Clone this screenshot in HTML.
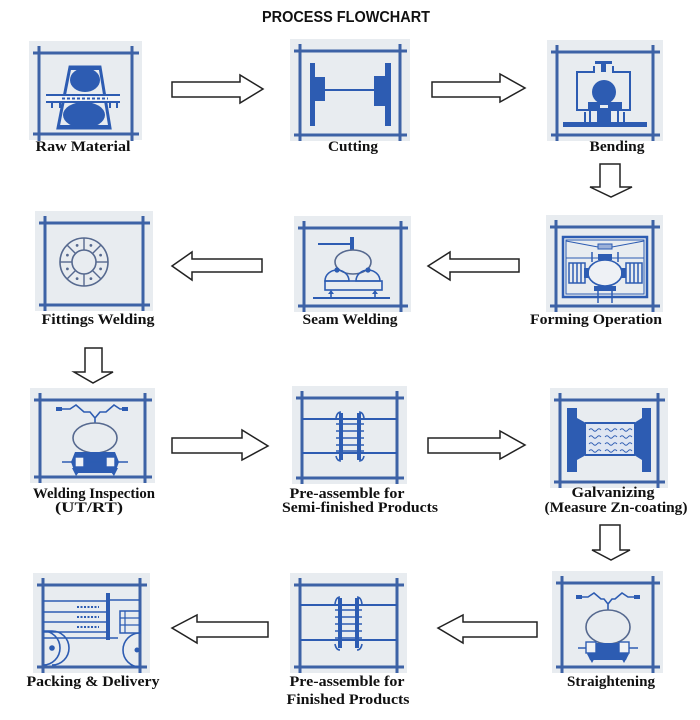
<!DOCTYPE html>
<html><head><meta charset="utf-8"><style>
html,body{margin:0;padding:0;background:#fff;}
svg{display:block;}
.lb{font-family:"Liberation Serif",serif;font-weight:bold;font-size:15px;fill:#111;}
.fr line{stroke:#3d62a6;stroke-width:3;}
.bg{fill:#e8ecf0;}
.ar{fill:#fff;stroke:#222;stroke-width:1.5;stroke-linejoin:miter;}
.b{fill:#2d5cb2;}
.s{stroke:#2d5cb2;fill:none;}
.g{stroke:#56698f;fill:none;stroke-width:1.6;}
</style></head><body>
<svg width="700" height="720" viewBox="0 0 700 720" xmlns="http://www.w3.org/2000/svg">
<rect width="700" height="720" fill="#fff"/>
<text x="346" y="22" text-anchor="middle" font-family="Liberation Sans, sans-serif" font-weight="bold" font-size="16" textLength="168" lengthAdjust="spacingAndGlyphs" fill="#111">PROCESS FLOWCHART</text>

<!-- backgrounds -->
<rect class="bg" x="29" y="41" width="113" height="99"/>
<rect class="bg" x="290" y="39" width="120" height="102"/>
<rect class="bg" x="547" y="40" width="116" height="101"/>
<rect class="bg" x="35" y="211" width="118" height="100"/>
<rect class="bg" x="294" y="216" width="117" height="96"/>
<rect class="bg" x="546" y="215" width="117" height="97"/>
<rect class="bg" x="30" y="388" width="125" height="95"/>
<rect class="bg" x="292" y="386" width="115" height="98"/>
<rect class="bg" x="550" y="388" width="118" height="100"/>
<rect class="bg" x="33" y="573" width="117" height="100"/>
<rect class="bg" x="290" y="573" width="117" height="100"/>
<rect class="bg" x="552" y="571" width="111" height="102"/>

<!-- frames -->
<g class="fr">
<line x1="39" y1="46" x2="39" y2="141"/><line x1="132" y1="46" x2="132" y2="141"/><line x1="33" y1="53" x2="139" y2="53"/><line x1="33" y1="134" x2="139" y2="134"/>
<line x1="300" y1="44" x2="300" y2="141"/><line x1="400" y1="44" x2="400" y2="141"/><line x1="294" y1="51" x2="407" y2="51"/><line x1="294" y1="135" x2="407" y2="135"/>
<line x1="557" y1="45" x2="557" y2="141"/><line x1="653" y1="45" x2="653" y2="141"/><line x1="551" y1="52" x2="660" y2="52"/><line x1="551" y1="135" x2="660" y2="135"/>
<line x1="45" y1="216" x2="45" y2="311"/><line x1="143" y1="216" x2="143" y2="311"/><line x1="39" y1="223" x2="150" y2="223"/><line x1="39" y1="305" x2="150" y2="305"/>
<line x1="304" y1="221" x2="304" y2="312"/><line x1="401" y1="221" x2="401" y2="312"/><line x1="298" y1="228" x2="408" y2="228"/><line x1="298" y1="306" x2="408" y2="306"/>
<line x1="556" y1="220" x2="556" y2="312"/><line x1="653" y1="220" x2="653" y2="312"/><line x1="550" y1="227" x2="660" y2="227"/><line x1="550" y1="306" x2="660" y2="306"/>
<line x1="40" y1="393" x2="40" y2="483"/><line x1="145" y1="393" x2="145" y2="483"/><line x1="34" y1="400" x2="152" y2="400"/><line x1="34" y1="477" x2="152" y2="477"/>
<line x1="302" y1="391" x2="302" y2="484"/><line x1="397" y1="391" x2="397" y2="484"/><line x1="296" y1="398" x2="404" y2="398"/><line x1="296" y1="478" x2="404" y2="478"/>
<line x1="560" y1="393" x2="560" y2="488"/><line x1="658" y1="393" x2="658" y2="488"/><line x1="554" y1="400" x2="665" y2="400"/><line x1="554" y1="482" x2="665" y2="482"/>
<line x1="43" y1="578" x2="43" y2="673"/><line x1="140" y1="578" x2="140" y2="673"/><line x1="37" y1="585" x2="147" y2="585"/><line x1="37" y1="667" x2="147" y2="667"/>
<line x1="300" y1="578" x2="300" y2="673"/><line x1="397" y1="578" x2="397" y2="673"/><line x1="294" y1="585" x2="404" y2="585"/><line x1="294" y1="667" x2="404" y2="667"/>
<line x1="562" y1="576" x2="562" y2="673"/><line x1="653" y1="576" x2="653" y2="673"/><line x1="556" y1="583" x2="660" y2="583"/><line x1="556" y1="667" x2="660" y2="667"/>
</g>

<!-- 1 Raw material -->
<polygon points="70,67 100,67 110,128 58,128" fill="#e8ecf0" stroke="#2d5cb2" stroke-width="3"/>
<ellipse class="b" cx="85" cy="80" rx="15" ry="12"/>
<ellipse class="b" cx="84" cy="115" rx="21" ry="13"/>
<line x1="69" y1="68" x2="101" y2="68" stroke="#2d5cb2" stroke-width="4"/>
<line x1="57" y1="127" x2="111" y2="127" stroke="#2d5cb2" stroke-width="4"/>
<rect x="46" y="94" width="74" height="9" fill="#f2f4f7"/>
<line x1="46" y1="95" x2="120" y2="95" stroke="#2d5cb2" stroke-width="2"/>
<line x1="46" y1="102" x2="120" y2="102" stroke="#2d5cb2" stroke-width="2"/>
<line x1="62" y1="98.5" x2="108" y2="98.5" stroke="#2d5cb2" stroke-width="2" stroke-dasharray="3 2"/>
<g stroke="#2d5cb2" stroke-width="2"><line x1="52" y1="102" x2="52" y2="108"/><line x1="60" y1="102" x2="60" y2="108"/><line x1="110" y1="102" x2="110" y2="108"/><line x1="117" y1="102" x2="117" y2="108"/></g>

<!-- 2 Cutting -->
<rect class="b" x="310" y="63" width="5" height="63"/>
<rect class="b" x="315" y="77" width="10" height="24"/>
<path class="s" stroke-width="1.2" d="M320 84 l4 3 -4 3 4 3 -4 3" stroke="#fff"/>
<line x1="325" y1="90" x2="375" y2="90" stroke="#2d5cb2" stroke-width="2"/>
<rect class="b" x="385" y="63" width="6" height="63"/>
<rect class="b" x="374" y="76" width="11" height="30"/>
<path class="s" stroke-width="1.2" d="M379 84 l-4 3 4 3 -4 3 4 3" stroke="#fff"/>

<!-- 3 Bending -->
<rect class="b" x="595" y="61" width="17" height="3"/>
<rect class="b" x="601" y="63" width="5" height="9"/>
<path class="s" stroke-width="2" d="M590 122 V110 H577 V72 H594 V66 M613 66 V72 H630 V110 H618 V122"/>
<circle class="b" cx="604" cy="92" r="12"/>
<rect class="b" x="588" y="102" width="34" height="9"/>
<rect x="600" y="105" width="8" height="3" fill="#e8ecf0"/>
<rect class="b" x="597" y="111" width="14" height="13"/>
<line x1="585" y1="112" x2="585" y2="124" stroke="#2d5cb2" stroke-width="2"/>
<line x1="624" y1="112" x2="624" y2="124" stroke="#2d5cb2" stroke-width="2"/>
<rect class="b" x="563" y="122" width="84" height="5"/>

<!-- 4 Fittings welding -->
<circle class="g" cx="84" cy="262" r="24"/>
<circle class="g" cx="84" cy="262" r="12"/>
<g stroke="#56698f" stroke-width="1.4">
<line x1="84" y1="274" x2="84" y2="286"/><line x1="84" y1="250" x2="84" y2="238"/><line x1="96" y1="262" x2="108" y2="262"/><line x1="72" y1="262" x2="60" y2="262"/>
<line x1="92.5" y1="270.5" x2="101" y2="279"/><line x1="75.5" y1="270.5" x2="67" y2="279"/><line x1="75.5" y1="253.5" x2="67" y2="245"/><line x1="92.5" y1="253.5" x2="101" y2="245"/>
</g>
<g fill="#56698f"><circle cx="100.6" cy="268.9" r="1.4"/><circle cx="90.9" cy="278.6" r="1.4"/><circle cx="77.1" cy="278.6" r="1.4"/><circle cx="67.4" cy="268.9" r="1.4"/><circle cx="67.4" cy="255.1" r="1.4"/><circle cx="77.1" cy="245.4" r="1.4"/><circle cx="90.9" cy="245.4" r="1.4"/><circle cx="100.6" cy="255.1" r="1.4"/></g>

<!-- 5 Seam welding -->
<line x1="318" y1="244" x2="352" y2="244" stroke="#2d5cb2" stroke-width="2"/>
<rect class="b" x="350" y="237" width="4" height="13"/>
<ellipse class="g" cx="353" cy="262" rx="18" ry="12" fill="#eef1f5"/>
<path class="s" stroke-width="1.6" d="M325 281 A12 11 0 0 1 349 281 Z M356 281 A12 11 0 0 1 380 281 Z"/>
<circle class="b" cx="337" cy="270" r="2.6"/><circle class="b" cx="368" cy="270" r="2.6"/>
<rect x="325" y="281" width="57" height="9" class="s" stroke-width="1.6"/>
<g stroke="#2d5cb2" stroke-width="1.6"><line x1="331" y1="291" x2="331" y2="298"/><line x1="375" y1="291" x2="375" y2="298"/></g>
<path class="b" d="M328 294 L331 290 L334 294 Z M372 294 L375 290 L378 294 Z"/>
<line x1="313" y1="298" x2="390" y2="298" stroke="#2d5cb2" stroke-width="2"/>

<!-- 6 Forming -->
<rect x="563" y="237" width="84" height="60" class="s" stroke-width="2.5"/>
<rect x="566" y="240" width="78" height="54" class="s" stroke-width="1"/>
<path class="s" stroke-width="1" d="M566 241 L598 247 M612 247 L644 241 M566 258 H644"/>
<rect x="598" y="244" width="14" height="5" fill="#9bb0d8" stroke="#2d5cb2" stroke-width="1"/>
<path class="s" stroke-width="1.5" d="M592 262 V252 M618 262 V252"/>
<rect class="b" x="598" y="254" width="14" height="6"/>
<ellipse cx="605" cy="273" rx="17" ry="13" fill="#eef1f5" stroke="#2d5cb2" stroke-width="1.6"/>
<rect x="569" y="263" width="16" height="20" class="s" stroke-width="1.5"/>
<path class="s" stroke-width="1.5" d="M573 263 V283 M577 263 V283 M581 263 V283 M630 263 V283 M634 263 V283 M638 263 V283"/>
<rect x="626" y="263" width="16" height="20" class="s" stroke-width="1.5"/>
<rect class="b" x="584" y="268" width="5" height="10"/><rect class="b" x="621" y="268" width="5" height="10"/>
<rect class="b" x="594" y="286" width="22" height="5"/>
<path class="s" stroke-width="1.5" d="M598 291 V303 M612 291 V303 M598 297 H612"/>

<!-- 7 Welding inspection -->
<path class="s" stroke-width="1.6" d="M57 409 H70 L76 405 L84 412 H90 L95 418 V423 M95 418 L100 412 H106 L114 405 L120 409 H127"/>
<path class="b" d="M56 407 h6 v4 h-6 Z M122 407 h6 v4 h-6 Z"/>
<ellipse class="g" cx="95" cy="438" rx="22" ry="15" fill="#eef1f5"/>
<polygon class="b" points="75,452 115,452 119,462 115,473 75,473 71,462"/>
<line x1="62" y1="462" x2="128" y2="462" stroke="#2d5cb2" stroke-width="1.6"/>
<rect x="75" y="457" width="9" height="10" fill="#eef1f5" stroke="#2d5cb2" stroke-width="1.4"/>
<rect x="106" y="457" width="9" height="10" fill="#eef1f5" stroke="#2d5cb2" stroke-width="1.4"/>
<path class="b" d="M72 468 L82 468 L76 476 Z M108 468 L118 468 L114 476 Z"/>

<!-- 8 Pre-assemble semi -->
<line x1="302" y1="419" x2="397" y2="419" stroke="#2d5cb2" stroke-width="2"/>
<line x1="302" y1="453" x2="397" y2="453" stroke="#2d5cb2" stroke-width="2"/>
<rect class="b" x="339" y="413" width="4" height="47"/><rect class="b" x="357" y="413" width="4" height="47"/>
<path class="s" stroke-width="1.6" d="M336 418 Q337 412 341 412 M364 418 Q363 412 359 412 M336 456 Q337 461 341 461 M364 456 Q363 461 359 461"/>
<path class="s" stroke-width="1.5" d="M336 424 H364 M336 431 H364 M336 438 H364 M336 445 H364 M336 451 H364"/>

<!-- 9 Galvanizing -->
<rect x="585" y="423" width="50" height="32" fill="#dfe6f2"/>
<rect class="b" x="567" y="408" width="10" height="64"/>
<polygon class="b" points="577,418 586,423 586,455 577,460"/>
<rect class="b" x="642" y="408" width="9" height="64"/>
<polygon class="b" points="642,418 634,423 634,455 642,460"/>
<line x1="585" y1="423" x2="635" y2="423" stroke="#2d5cb2" stroke-width="2"/>
<line x1="585" y1="455" x2="635" y2="455" stroke="#2d5cb2" stroke-width="2"/>
<path class="s" stroke-width="1" d="M589 430 q2 -2.5 4 0 t4 0 t4 0 M605 430 q2 -2.5 4 0 t4 0 t4 0 M620 430 q2 -2.5 4 0 t4 0 t4 0 M589 437 q2 -2.5 4 0 t4 0 t4 0 M605 437 q2 -2.5 4 0 t4 0 t4 0 M620 437 q2 -2.5 4 0 t4 0 t4 0 M589 444 q2 -2.5 4 0 t4 0 t4 0 M605 444 q2 -2.5 4 0 t4 0 t4 0 M620 444 q2 -2.5 4 0 t4 0 t4 0 M589 451 q2 -2.5 4 0 t4 0 t4 0 M605 451 q2 -2.5 4 0 t4 0 t4 0 M620 451 q2 -2.5 4 0 t4 0 t4 0"/>

<!-- 10 Packing -->
<path class="s" stroke-width="1.5" d="M43 601 H108 M43 612 H108 M43 622 H108 M43 632 H108 M110 600 H140 M43 638 H118"/>
<path stroke="#2d5cb2" stroke-width="2" stroke-dasharray="2 1.5" d="M77 607 H99 M77 617 H99 M77 627 H99"/>
<rect class="b" x="106" y="593" width="4" height="47"/>
<rect x="120" y="611" width="20" height="22" class="s" stroke-width="1.5"/>
<path class="s" stroke-width="1.2" d="M120 618 H140 M120 625 H140 M125 611 V633"/>
<path class="s" stroke-width="1.6" d="M43 631 A17 17 0 0 1 43 665 M52 631 A17 17 0 0 1 52 665 M43 631 H52 M140 633 A17 17 0 0 0 140 667"/>
<circle class="b" cx="52" cy="648" r="2.8"/><circle class="b" cx="137" cy="650" r="2.5"/>

<!-- 11 Pre-assemble finished -->
<line x1="300" y1="605" x2="397" y2="605" stroke="#2d5cb2" stroke-width="2"/>
<line x1="300" y1="640" x2="397" y2="640" stroke="#2d5cb2" stroke-width="2"/>
<rect class="b" x="338" y="598" width="4" height="50"/><rect class="b" x="355" y="598" width="4" height="50"/>
<path class="s" stroke-width="1.6" d="M335 604 Q336 597 340 597 M362 604 Q361 597 357 597 M335 644 Q336 650 340 650 M362 644 Q361 650 357 650"/>
<path class="s" stroke-width="1.5" d="M335 610 H362 M335 617 H362 M335 624 H362 M335 631 H362 M335 638 H362"/>

<!-- 12 Straightening -->
<path class="s" stroke-width="1.6" d="M578 597 H588 L594 593 L601 599 H604 L608 604 V610 M608 604 L612 599 H615 L622 593 L628 597 H638"/>
<path class="b" d="M576 595 h6 v4 h-6 Z M634 595 h6 v4 h-6 Z"/>
<ellipse class="g" cx="608" cy="627" rx="22" ry="17" fill="#eef1f5"/>
<polygon class="b" points="590,643 626,643 629,653 626,660 590,660 587,653"/>
<line x1="578" y1="648" x2="638" y2="648" stroke="#2d5cb2" stroke-width="1.6"/>
<rect x="586" y="642" width="10" height="11" fill="#eef1f5" stroke="#2d5cb2" stroke-width="1.4"/>
<rect x="619" y="642" width="10" height="11" fill="#eef1f5" stroke="#2d5cb2" stroke-width="1.4"/>
<path class="b" d="M587 654 L597 654 L592 663 Z M619 654 L629 654 L624 663 Z"/>

<!-- arrows -->
<polygon class="ar" points="172,82 240,82 240,75 263,89 240,103 240,97 172,97"/>
<polygon class="ar" points="432,82 500,82 500,74 525,88 500,102 500,97 432,97"/>
<polygon class="ar" points="600,164 620,164 620,187 632,187 611,197 590,187 600,187"/>
<polygon class="ar" points="172,266 192,252 192,259 262,259 262,272 192,272 192,280"/>
<polygon class="ar" points="428,266 450,252 450,259 519,259 519,272 450,272 450,280"/>
<polygon class="ar" points="85,348 102,348 102,372 113,372 93,383 74,372 85,372"/>
<polygon class="ar" points="172,438 242,438 242,430 268,446 242,460 242,453 172,453"/>
<polygon class="ar" points="428,438 500,438 500,431 525,445 500,459 500,453 428,453"/>
<polygon class="ar" points="600,525 620,525 620,550 630,550 611,560 592,550 600,550"/>
<polygon class="ar" points="172,628 197,615 197,622 268,622 268,637 197,637 197,643"/>
<polygon class="ar" points="438,628 463,615 463,622 537,622 537,637 463,637 463,643"/>

<!-- labels -->
<text class="lb" x="83" y="151" text-anchor="middle" textLength="95" lengthAdjust="spacingAndGlyphs">Raw Material</text>
<text class="lb" x="353" y="151" text-anchor="middle" textLength="50" lengthAdjust="spacingAndGlyphs">Cutting</text>
<text class="lb" x="617" y="151" text-anchor="middle" textLength="55" lengthAdjust="spacingAndGlyphs">Bending</text>
<text class="lb" x="98" y="324" text-anchor="middle" textLength="113" lengthAdjust="spacingAndGlyphs">Fittings Welding</text>
<text class="lb" x="350" y="324" text-anchor="middle" textLength="95" lengthAdjust="spacingAndGlyphs">Seam Welding</text>
<text class="lb" x="596" y="324" text-anchor="middle" textLength="132" lengthAdjust="spacingAndGlyphs">Forming Operation</text>
<text class="lb" x="94" y="498" text-anchor="middle" textLength="122" lengthAdjust="spacingAndGlyphs">Welding Inspection</text>
<text class="lb" x="89" y="512" text-anchor="middle" textLength="68" lengthAdjust="spacingAndGlyphs">(UT/RT)</text>
<text class="lb" x="347" y="498" text-anchor="middle" textLength="115" lengthAdjust="spacingAndGlyphs">Pre-assemble for</text>
<text class="lb" x="360" y="512" text-anchor="middle" textLength="156" lengthAdjust="spacingAndGlyphs">Semi-finished Products</text>
<text class="lb" x="613" y="497" text-anchor="middle" textLength="83" lengthAdjust="spacingAndGlyphs">Galvanizing</text>
<text class="lb" x="616" y="512" text-anchor="middle" font-size="14" textLength="143" lengthAdjust="spacingAndGlyphs">(Measure Zn-coating)</text>
<text class="lb" x="93" y="686" text-anchor="middle" textLength="133" lengthAdjust="spacingAndGlyphs">Packing &amp; Delivery</text>
<text class="lb" x="347" y="686" text-anchor="middle" textLength="115" lengthAdjust="spacingAndGlyphs">Pre-assemble for</text>
<text class="lb" x="348" y="704" text-anchor="middle" textLength="123" lengthAdjust="spacingAndGlyphs">Finished Products</text>
<text class="lb" x="611" y="686" text-anchor="middle" textLength="88" lengthAdjust="spacingAndGlyphs">Straightening</text>
</svg>
</body></html>
